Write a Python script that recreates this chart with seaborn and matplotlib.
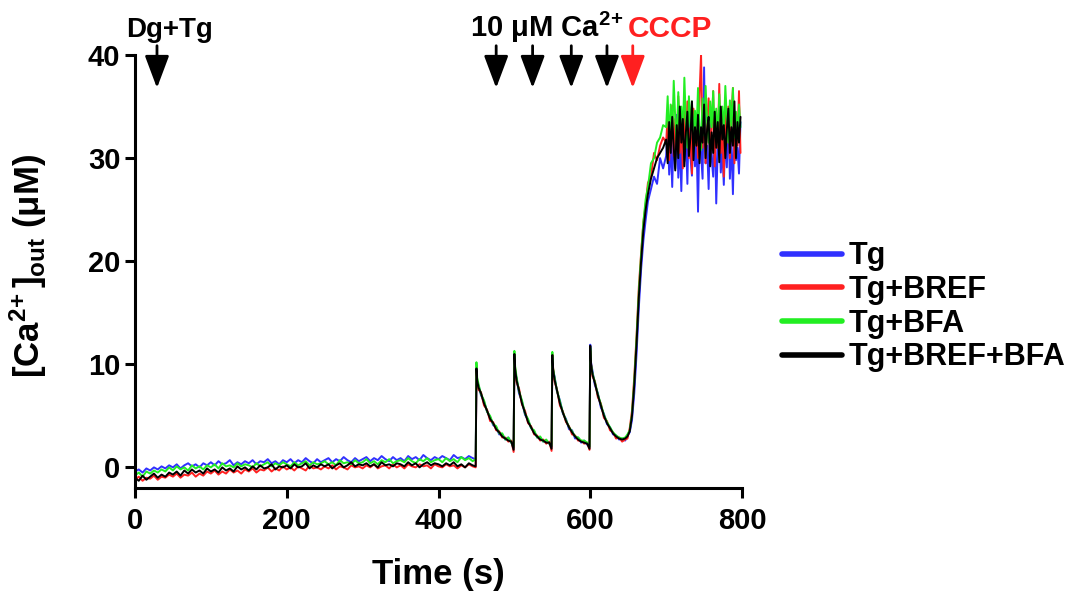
import numpy as np
import pandas as pd
import matplotlib
matplotlib.use("Agg")
import matplotlib.pyplot as plt
import seaborn as sns

# --------------------------------
# Data
# --------------------------------

conditions = ["Tg", "Tg+BREF", "Tg+BFA", "Tg+BREF+BFA"]
colors = ["#3030ff", "#ff2020", "#22ee22", "#000000"]

# sampling grid: baseline, four Ca2+ pulses, CCCP rise, plateau
pulse_starts = [450, 500, 550, 600]
pulse_offsets = [0, 1, 3, 6, 10, 14, 18, 22, 26, 30, 34, 38, 42, 46, 49]
rise_times = [652, 655, 658, 661, 664, 667, 670, 673, 676, 680, 684, 688, 692, 696]
time = np.concatenate([
    np.arange(0, 450, 5), [449],
    [p + o for p in pulse_starts for o in pulse_offsets],
    rise_times,
    np.arange(700, 800, 2),
])

tg = [
    # baseline
    -0.4, -0.2, -0.5, -0.1, -0.3, 0.0, -0.2, 0.1, -0.1, 0.2,
    0.0, 0.3, -0.1, 0.2, 0.4, 0.1, 0.3, 0.0, 0.4, 0.2,
    0.5, 0.2, 0.6, 0.3, 0.4, 0.7, 0.2, 0.5, 0.3, 0.6,
    0.4, 0.7, 0.3, 0.6, 0.5, 0.8, 0.4, 0.6, 0.3, 0.7,
    0.5, 0.8, 0.4, 0.7, 0.5, 0.9, 0.6, 0.4, 0.8, 0.5,
    0.7, 0.9, 0.5, 0.8, 0.6, 1.0, 0.7, 0.5, 0.9, 0.6,
    0.8, 1.0, 0.6, 0.9, 0.7, 1.1, 0.8, 0.6, 1.0, 0.7,
    0.9, 0.6, 1.1, 0.8, 1.0, 0.7, 1.2, 0.9, 0.7, 1.0,
    0.8, 1.1, 0.9, 0.7, 1.2, 0.9, 1.0, 0.8, 1.1, 0.9,
    0.8,
    # pulses
    9.2, 8.3, 7.9, 7.0, 6.4, 5.4, 4.9, 4.1, 3.9, 3.2, 3.2, 2.7, 2.9, 2.4, 1.9,
    10.6, 9.3, 8.6, 7.2, 6.4, 5.1, 4.6, 3.8, 3.5, 2.9, 2.9, 2.5, 2.6, 2.3, 2.0,
    10.8, 9.4, 8.8, 7.4, 6.5, 5.2, 4.7, 3.7, 3.6, 2.8, 2.9, 2.4, 2.6, 2.2, 2.0,
    11.9, 10.2, 9.3, 8.0, 7.2, 5.8, 5.2, 4.2, 3.9, 3.2, 3.1, 2.7, 2.8, 2.6, 3.1,
    # CCCP rise
    3.4, 4.6, 7.2, 11.0, 15.5, 19.2, 22.0, 24.0, 25.8, 27.0, 28.2, 27.5, 30.0, 29.0,
    # plateau
    30.2, 33.1, 28.4, 31.5, 27.2, 32.8, 29.0, 34.2, 28.1, 31.6,
    26.8, 33.5, 29.7, 32.1, 27.5, 35.0, 30.1, 28.3, 33.4, 29.2,
    31.8, 24.8, 33.0, 30.5, 28.0, 38.8, 29.5, 31.2, 27.0, 33.6,
    30.0, 28.2, 34.1, 25.6, 31.0, 33.3, 28.6, 30.8, 27.4, 32.5,
    29.1, 34.0, 28.0, 31.7, 26.5, 33.2, 29.8, 31.0, 28.5, 33.5,
]

tg_bref = [
    -1.2, -0.9, -1.3, -1.0, -1.1, -0.8, -1.2, -0.9, -1.0, -0.7,
    -0.9, -0.6, -1.0, -0.7, -0.8, -0.5, -0.9, -0.6, -0.8, -0.4,
    -0.6, -0.3, -0.7, -0.4, -0.6, -0.2, -0.5, -0.3, -0.6, -0.2,
    -0.4, -0.1, -0.5, -0.2, -0.3, 0.0, -0.4, -0.1, -0.3, 0.1,
    -0.2, 0.0, -0.3, 0.1, -0.1, -0.3, 0.2, -0.1, 0.0, -0.2,
    0.1, -0.1, 0.2, -0.2, 0.1, 0.0, -0.2, 0.2, 0.0, 0.1,
    -0.1, 0.2, 0.0, 0.3, -0.1, 0.1, 0.2, -0.1, 0.3, 0.0,
    0.2, -0.1, 0.3, 0.1, 0.0, 0.3, 0.1, 0.2, -0.1, 0.3,
    0.1, 0.0, 0.3, 0.1, 0.2, -0.1, 0.2, 0.0, 0.3, 0.1,
    0.0,
    9.4, 8.1, 7.5, 7.3, 6.0, 5.6, 4.5, 4.4, 3.6, 3.5, 2.9, 2.9, 2.5, 2.6, 1.5,
    10.9, 9.6, 8.2, 7.7, 6.1, 5.5, 4.3, 4.0, 3.2, 3.1, 2.6, 2.7, 2.3, 2.5, 1.6,
    11.0, 9.7, 8.3, 7.6, 6.0, 5.4, 4.4, 4.0, 3.2, 3.1, 2.6, 2.6, 2.3, 2.4, 1.7,
    11.3, 10.1, 8.8, 8.4, 6.8, 6.2, 4.8, 4.5, 3.6, 3.4, 2.8, 2.9, 2.5, 2.7, 2.8,
    3.8, 5.5, 8.8, 12.8, 17.5, 20.8, 23.8, 25.5, 27.6, 28.2, 30.5, 29.8, 31.2, 32.0,
    31.5, 34.2, 29.8, 33.0, 35.1, 30.2, 33.8, 31.0, 36.0, 30.5,
    33.2, 29.0, 34.5, 31.8, 35.5, 30.0, 33.0, 28.5, 34.8, 31.2,
    33.5, 30.0, 36.2, 40.1, 31.0, 34.0, 29.5, 33.2, 35.8, 30.4,
    32.8, 36.5, 29.2, 33.6, 31.0, 37.2, 30.5, 33.0, 28.2, 34.5,
    31.5, 35.0, 30.0, 33.8, 36.8, 29.5, 34.0, 31.2, 36.5, 30.5,
]

tg_bfa = [
    -0.8, -0.5, -0.9, -0.4, -0.6, -0.3, -0.5, -0.2, -0.4, 0.0,
    -0.3, 0.1, -0.2, 0.0, -0.3, 0.2, -0.1, 0.1, -0.2, 0.2,
    0.0, 0.3, -0.1, 0.4, 0.1, 0.2, 0.0, 0.4, 0.1, 0.3,
    0.2, 0.0, 0.4, 0.1, 0.3, 0.5, 0.1, 0.4, 0.2, 0.5,
    0.3, 0.1, 0.5, 0.2, 0.4, 0.6, 0.2, 0.5, 0.3, 0.4,
    0.6, 0.3, 0.5, 0.2, 0.7, 0.4, 0.5, 0.3, 0.7, 0.4,
    0.5, 0.8, 0.4, 0.6, 0.3, 0.7, 0.5, 0.8, 0.4, 0.6,
    0.7, 0.5, 0.9, 0.6, 0.4, 0.8, 0.6, 0.9, 0.5, 0.7,
    0.8, 0.5, 0.9, 0.6, 0.8, 0.5, 1.0, 0.7, 0.9, 0.6,
    0.8,
    10.2, 8.7, 8.0, 7.1, 6.5, 5.4, 5.0, 4.2, 4.0, 3.3, 3.3, 2.7, 2.9, 2.4, 2.0,
    11.3, 9.8, 8.7, 7.4, 6.5, 5.2, 4.7, 3.8, 3.6, 2.9, 3.0, 2.5, 2.7, 2.3, 2.1,
    11.2, 9.6, 8.7, 7.5, 6.4, 5.3, 4.6, 3.9, 3.5, 3.0, 2.9, 2.6, 2.6, 2.4, 2.0,
    11.6, 10.0, 9.1, 8.3, 7.1, 6.1, 5.1, 4.4, 3.9, 3.4, 3.1, 2.9, 2.8, 2.9, 3.2,
    3.6, 5.2, 8.4, 12.5, 17.0, 20.6, 23.8, 26.0, 27.2, 29.5, 30.0, 31.5, 32.0, 33.2,
    33.0, 36.0, 31.5, 35.2, 32.0, 37.5, 33.8, 31.2, 36.4, 32.5,
    35.0, 32.0, 37.8, 33.5, 31.0, 36.0, 33.0, 35.5, 31.8, 34.6,
    32.5, 36.8, 33.0, 30.8, 35.8, 32.2, 37.0, 33.6, 31.5, 35.5,
    33.0, 36.5, 32.0, 34.8, 31.5, 36.2, 33.5, 35.0, 32.2, 37.0,
    33.8, 31.5, 35.6, 33.0, 36.8, 32.0, 34.5, 31.8, 35.2, 33.0,
]

tg_bref_bfa = [
    -1.0, -1.3, -0.8, -1.2, -0.9, -0.6, -1.0, -0.7, -0.9, -0.5,
    -0.7, -0.4, -0.8, -0.3, -0.6, -0.2, -0.5, -0.3, -0.6, -0.1,
    -0.4, -0.2, -0.5, 0.0, -0.3, -0.1, -0.4, 0.1, -0.2, 0.0,
    -0.3, 0.1, -0.2, 0.2, -0.1, 0.0, 0.3, -0.2, 0.1, 0.0,
    0.2, -0.1, 0.3, 0.0, 0.1, 0.4, -0.1, 0.2, 0.0, 0.3,
    0.1, 0.3, -0.1, 0.2, 0.4, 0.0, 0.2, 0.5, 0.1, 0.3,
    0.2, 0.4, 0.1, 0.3, 0.0, 0.5, 0.2, 0.3, 0.1, 0.4,
    0.3, 0.1, 0.5, 0.2, 0.4, 0.0, 0.3, 0.5, 0.2, 0.4,
    0.3, 0.1, 0.4, 0.2, 0.5, 0.1, 0.3, 0.0, 0.4, 0.2,
    0.1,
    9.6, 8.4, 7.7, 7.2, 6.2, 5.5, 4.7, 4.3, 3.7, 3.4, 3.0, 2.8, 2.6, 2.5, 1.7,
    11.0, 9.5, 8.4, 7.5, 6.2, 5.3, 4.4, 3.9, 3.3, 3.0, 2.7, 2.6, 2.4, 2.4, 1.8,
    10.9, 9.5, 8.5, 7.5, 6.2, 5.3, 4.5, 3.9, 3.4, 3.0, 2.7, 2.5, 2.4, 2.3, 1.8,
    11.8, 10.0, 9.0, 8.2, 7.0, 6.0, 5.0, 4.3, 3.8, 3.3, 3.0, 2.8, 2.7, 2.8, 3.0,
    3.5, 5.0, 8.0, 12.0, 16.5, 20.0, 23.0, 25.0, 26.5, 28.0, 29.0, 30.0, 30.5, 31.0,
    31.8, 29.5, 33.5, 30.5, 34.0, 31.0, 28.8, 33.2, 30.0, 35.0,
    31.5, 33.8, 29.2, 32.5, 34.5, 30.2, 32.0, 35.5, 29.8, 33.0,
    31.2, 34.2, 29.5, 33.0, 31.5, 35.2, 30.0, 32.8, 34.0, 29.2,
    32.5, 30.5, 34.5, 31.0, 33.5, 29.6, 35.0, 31.8, 33.2, 30.0,
    32.8, 34.8, 30.5, 33.0, 31.2, 35.5, 30.0, 33.5, 31.5, 34.0,
]

# additions marked with arrows (s)
dgtg_arrow = [29]
ca_arrows = [476, 524, 575, 622]
cccp_arrow = [656]

# --------------------------------
# Style
# --------------------------------

sns.set_style("ticks")
plt.rcParams["font.family"] = ["Liberation Sans", "DejaVu Sans"]
plt.rcParams["font.weight"] = "bold"
plt.rcParams["mathtext.fontset"] = "custom"
plt.rcParams["mathtext.rm"] = "Liberation Sans:bold"
plt.rcParams["mathtext.bf"] = "Liberation Sans:bold"
plt.rcParams["mathtext.it"] = "Liberation Sans:bold"
plt.rcParams["mathtext.default"] = "rm"
for key in ["text.color", "axes.labelcolor", "xtick.color", "ytick.color", "axes.edgecolor"]:
    plt.rcParams[key] = "black"

df = pd.DataFrame({
    "t": np.tile(time, 4),
    "ca": np.concatenate([tg, tg_bref, tg_bfa, tg_bref_bfa]),
    "cond": np.repeat(conditions, len(time)),
})

fig = plt.figure(figsize=(10.79, 5.96), dpi=100)
ax = fig.add_axes([0.1251, 0.1812, 0.5626, 0.7265])

sns.lineplot(
    data=df, x="t", y="ca", hue="cond", hue_order=conditions,
    palette=colors, estimator=None, sort=False, linewidth=1.4, ax=ax
)

ax.set_xlim(0, 800)
ax.set_ylim(-2, 40)
ax.set_xticks([0, 200, 400, 600, 800])
ax.set_yticks([0, 10, 20, 30, 40])
sns.despine(ax=ax)
for s in ["left", "bottom"]:
    ax.spines[s].set_linewidth(2.2)
ax.tick_params(width=2.2, length=7, labelsize=21, direction="out")
ax.tick_params(axis="x", pad=7)

ax.set_xlabel("Time (s)", fontsize=25, fontweight="bold", labelpad=16)
ax.set_ylabel("[Ca$^{2\\!+}$]$_{out}$ (μM)", fontsize=25, fontweight="bold")
ax.yaxis.set_label_coords(-0.141, 0.513)

# arrows for additions
arrow_style = "-|>,head_length=2.0,head_width=0.75"
for t, c in [(t, "black") for t in dgtg_arrow + ca_arrows] + [(t, "#ff2020") for t in cccp_arrow]:
    ax.annotate(
        "", xy=(t, 36.8), xytext=(t, 40.9), annotation_clip=False,
        arrowprops=dict(arrowstyle=arrow_style, color=c, lw=2,
                        shrinkA=0, shrinkB=0, mutation_scale=10),
    )

ax.text(46, 41.7, "Dg+Tg", ha="center", va="baseline", fontsize=20,
        fontweight="bold", clip_on=False)
ax.text(643, 41.7, "10 μM Ca$^{2\\!+}$", ha="right", va="baseline", fontsize=21,
        fontweight="bold", clip_on=False)
ax.text(650, 41.7, "CCCP", ha="left", va="baseline", fontsize=21.5,
        fontweight="bold", color="#ff2020", clip_on=False)

leg = ax.legend(
    loc="center left", bbox_to_anchor=(0.711, 0.485),
    bbox_transform=fig.transFigure, frameon=False, fontsize=22,
    handlelength=1.95, handletextpad=0.2, labelspacing=0.12, borderpad=0,
)
for h in leg.get_lines():
    h.set_linewidth(4)
for txt in leg.get_texts():
    txt.set_fontweight("bold")

fig.savefig("out.png", dpi=100)
